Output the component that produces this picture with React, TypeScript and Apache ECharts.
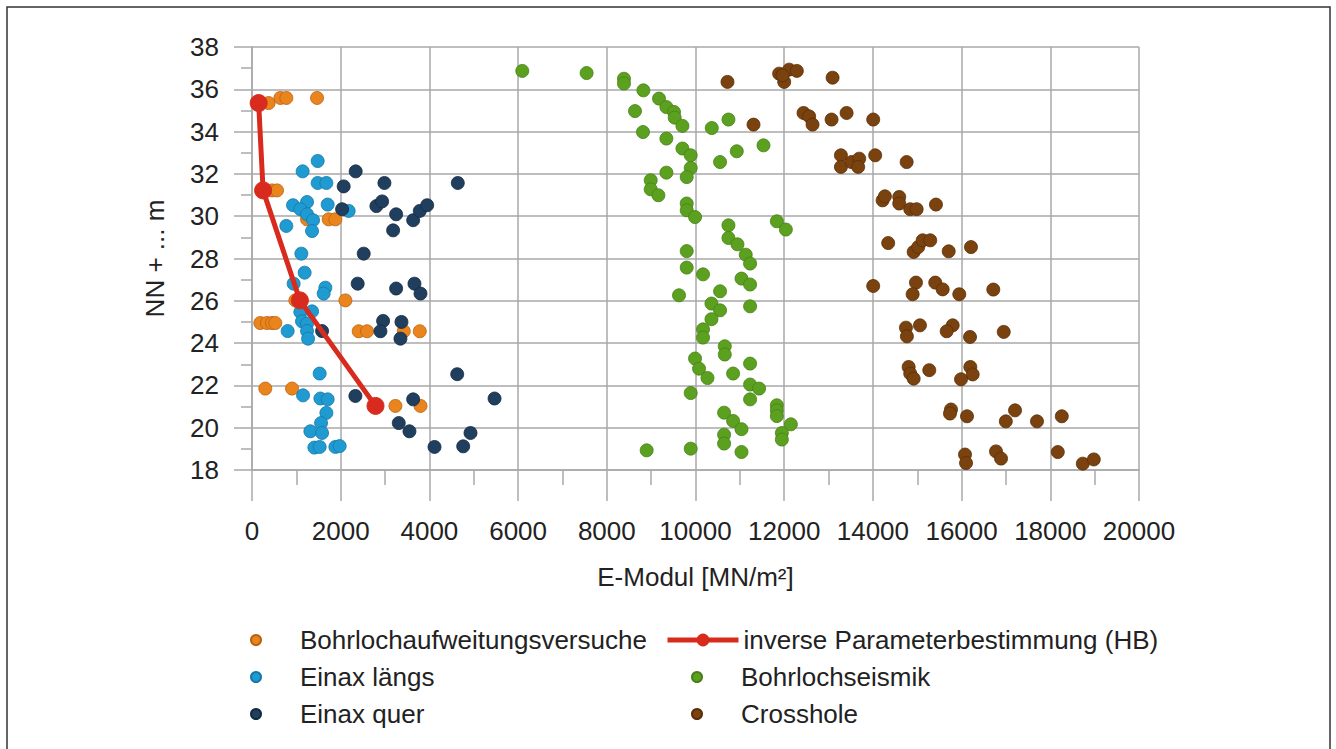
import React, { useEffect, useRef } from 'react';
import * as echarts from 'echarts';

const FONT = '"Liberation Sans", Arial, Helvetica, sans-serif';

const NAME_ORANGE = 'Bohrlochaufweitungsversuche';
const NAME_BLUE = 'Einax längs';
const NAME_NAVY = 'Einax quer';
const NAME_RED = 'inverse Parameterbestimmung (HB)';
const NAME_GREEN = 'Bohrlochseismik';
const NAME_BROWN = 'Crosshole';

const xTicks = [0, 2000, 4000, 6000, 8000, 10000, 12000, 14000, 16000, 18000, 20000];
const yTicks = [18, 20, 22, 24, 26, 28, 30, 32, 34, 36, 38];

const bohrlochaufweitung: number[][] = [
  [375, 35.35], [640, 35.59], [775, 35.59], [1467, 35.59], [451, 31.22], [564, 31.22],
  [1241, 29.85], [1729, 29.85], [1880, 29.85], [977, 26.02], [2106, 26.02],
  [187, 24.95], [338, 24.95], [451, 24.95], [526, 24.95], [2406, 24.56], [2595, 24.56],
  [3422, 24.56], [3783, 24.56], [300, 21.85], [903, 21.85], [3234, 21.03], [3799, 21.03],
];

const einaxLaengs: number[][] = [
  [1481, 32.61], [1142, 32.12], [1481, 31.57], [1677, 31.57], [1241, 30.67], [925, 30.52],
  [1090, 30.33], [1241, 30.09], [1706, 30.55], [1377, 29.81], [2180, 30.25], [774, 29.54],
  [1354, 29.3], [1113, 28.23], [1187, 27.33], [939, 26.81], [1654, 26.62], [1616, 26.34],
  [1090, 25.47], [1354, 25.5], [1128, 25.03], [1241, 24.92], [804, 24.57], [1241, 24.57],
  [1264, 24.21], [1526, 22.56], [1151, 21.53], [1542, 21.38], [1706, 21.34], [1677, 20.7],
  [1557, 20.22], [1316, 19.83], [1580, 19.75], [1406, 19.06], [1526, 19.09], [1880, 19.09],
  [1977, 19.13],
];

const einaxQuer: number[][] = [
  [2338, 32.12], [2067, 31.41], [2986, 31.57], [4640, 31.57], [2031, 30.33], [2805, 30.48],
  [2934, 30.7], [3250, 30.09], [3634, 29.81], [3783, 30.25], [3950, 30.52], [3182, 29.33],
  [2519, 28.23], [2383, 26.81], [3250, 26.58], [3663, 26.81], [3799, 26.34], [1580, 24.57],
  [2956, 25.05], [3370, 25.0], [2896, 24.56], [3347, 24.21], [4627, 22.53], [2331, 21.5],
  [3634, 21.34], [5469, 21.38], [3309, 20.22], [3550, 19.83], [4927, 19.75], [4115, 19.09],
  [4762, 19.12],
];

const inverseHB: number[][] = [
  [150, 35.35], [250, 31.22], [1080, 26.02], [2785, 21.03],
];

const bohrlochseismik: number[][] = [
  [6094, 36.87], [7545, 36.77], [8387, 36.5], [8387, 36.27], [8825, 35.95], [9177, 35.56],
  [9344, 35.16], [9515, 34.93], [9531, 34.66], [9705, 34.27], [8636, 34.97], [8816, 33.98],
  [9344, 33.67], [9705, 33.2], [9892, 32.88], [9892, 32.28], [9802, 31.85], [9344, 32.06],
  [8990, 31.7], [8990, 31.27], [9163, 30.99], [10367, 34.17], [10743, 34.57], [10931, 33.07],
  [10554, 32.56], [11533, 33.35], [9802, 30.6], [9802, 30.28], [9990, 29.96], [10743, 29.57],
  [11834, 29.76], [12037, 29.37], [10743, 28.97], [10946, 28.67], [11133, 28.18], [9802, 28.35],
  [11231, 27.76], [9802, 27.57], [10170, 27.25], [11037, 27.05], [11231, 26.77], [9628, 26.26],
  [10554, 26.45], [10360, 25.87], [10554, 25.55], [10360, 25.13], [11231, 25.74], [10170, 24.65],
  [10170, 24.26], [10660, 23.85], [10660, 23.46], [9990, 23.27], [10080, 22.79], [10270, 22.35],
  [10848, 22.56], [11231, 23.03], [11231, 22.04], [11434, 21.85], [11231, 21.34], [9892, 21.64],
  [11834, 21.06], [11834, 20.82], [11834, 20.55], [12150, 20.16], [11947, 19.75], [11947, 19.44],
  [10645, 20.71], [10848, 20.32], [11037, 19.93], [10645, 19.67], [10645, 19.25], [9892, 19.01],
  [8899, 18.93], [11037, 18.85],
];

const crosshole: number[][] = [
  [10721, 36.35], [11886, 36.74], [12000, 36.35], [12111, 36.93], [12285, 36.87], [11962, 36.66],
  [13091, 36.55], [11308, 34.33], [12436, 34.88], [12563, 34.72], [12639, 34.33], [13068, 34.57],
  [13407, 34.88], [14007, 34.57], [13279, 32.88], [13279, 32.33], [13520, 32.56], [13691, 32.72],
  [13668, 32.33], [14052, 32.88], [14761, 32.56], [14219, 30.75], [14271, 30.94], [14594, 30.91],
  [14594, 30.6], [14842, 30.33], [14986, 30.33], [15422, 30.55], [14345, 28.73], [14919, 28.31],
  [15022, 28.54], [15122, 28.86], [15293, 28.86], [15709, 28.34], [16212, 28.54], [14007, 26.7],
  [14971, 26.86], [14896, 26.31], [15406, 26.86], [15573, 26.54], [15948, 26.31], [16715, 26.53],
  [14745, 24.73], [14767, 24.32], [15061, 24.84], [15799, 24.84], [15664, 24.56], [16190, 24.29],
  [16950, 24.53], [14806, 22.87], [14842, 22.56], [14919, 22.32], [15271, 22.72], [16197, 22.87],
  [16250, 22.52], [15987, 22.29], [15761, 20.86], [15738, 20.67], [16122, 20.54], [17205, 20.82],
  [16997, 20.3], [17700, 20.3], [18259, 20.54], [16077, 18.73], [16100, 18.33], [16776, 18.88],
  [16889, 18.54], [18169, 18.85], [18733, 18.3], [18981, 18.5],
];

const GRID_COLOR = '#a9a9a9';
const TEXT_COLOR = '#222222';
const FS = 26;

function scatter(name: string, data: number[][], color: string, border: string) {
  return {
    type: 'scatter',
    name,
    data,
    symbol: 'circle',
    symbolSize: 13,
    itemStyle: { color, borderColor: border, borderWidth: 0.8, opacity: 1 },
    z: 3,
  };
}

export default function App() {
  const ref = useRef<HTMLDivElement>(null);
  useEffect(() => {
    const chart = echarts.init(ref.current as HTMLDivElement, null, { renderer: 'svg' });
    const legendText = { fontSize: FS, color: TEXT_COLOR, fontFamily: FONT };
    const option: any = {
      animation: false,
      backgroundColor: '#ffffff',
      textStyle: { fontFamily: FONT },
      graphic: [
        {
          type: 'rect',
          silent: true,
          shape: { x: 7, y: 7, width: 1323, height: 800 },
          style: { fill: 'none', stroke: '#333333', lineWidth: 1.5 },
        },
      ],
      grid: { left: 252, top: 47, width: 887, height: 423 },
      legend: [
        {
          orient: 'vertical', left: 245, top: 622, itemWidth: 78, itemHeight: 10, itemGap: 11,
          textStyle: legendText, data: [NAME_ORANGE, NAME_BLUE, NAME_NAVY], selectedMode: false,
        },
        {
          orient: 'vertical', left: 660, top: 622, itemWidth: 71, itemHeight: 16, itemGap: 11,
          textStyle: legendText, data: [NAME_RED], selectedMode: false,
          lineStyle: { width: 5, color: '#d92a1e' },
        },
        {
          orient: 'vertical', left: 686, top: 659, itemWidth: 78, itemHeight: 10, itemGap: 11,
          textStyle: legendText, data: [NAME_GREEN, NAME_BROWN], selectedMode: false,
        },
      ],
      xAxis: {
        type: 'value',
        min: xTicks[0],
        max: xTicks[xTicks.length - 1],
        interval: xTicks[1] - xTicks[0],
        name: 'E-Modul [MN/m²]',
        nameLocation: 'middle',
        nameGap: 94,
        nameTextStyle: { fontSize: FS, color: TEXT_COLOR, fontFamily: FONT },
        axisLine: { show: true, lineStyle: { color: GRID_COLOR, width: 1.5 } },
        axisTick: { show: true, length: 31, lineStyle: { color: GRID_COLOR, width: 1.5 } },
        minorTick: { show: true, splitNumber: 2, length: 15, lineStyle: { color: GRID_COLOR, width: 1.5 } },
        axisLabel: {
          fontSize: FS, color: TEXT_COLOR, margin: 48, fontFamily: FONT,
          formatter: (v: number) => String(v),
        },
        splitLine: { show: true, lineStyle: { color: GRID_COLOR, width: 1.5 } },
      },
      yAxis: {
        type: 'value',
        min: yTicks[0],
        max: yTicks[yTicks.length - 1],
        interval: yTicks[1] - yTicks[0],
        name: 'NN + ... m',
        nameLocation: 'middle',
        nameRotate: 90,
        nameGap: 84,
        nameTextStyle: { fontSize: FS, color: TEXT_COLOR, fontFamily: FONT },
        axisLine: { show: true, lineStyle: { color: GRID_COLOR, width: 1.5 } },
        axisTick: { show: true, length: 18, lineStyle: { color: GRID_COLOR, width: 1.5 } },
        minorTick: { show: true, splitNumber: 2, length: 11, lineStyle: { color: GRID_COLOR, width: 1.5 } },
        axisLabel: {
          fontSize: FS, color: TEXT_COLOR, margin: 33, fontFamily: FONT,
          formatter: (v: number) => String(v),
        },
        splitLine: { show: true, lineStyle: { color: GRID_COLOR, width: 1.5 } },
      },
      series: [
        scatter(NAME_ORANGE, bohrlochaufweitung, '#ea841d', '#b86210'),
        scatter(NAME_BLUE, einaxLaengs, '#1f9bd1', '#1479a6'),
        scatter(NAME_NAVY, einaxQuer, '#203f5f', '#142a40'),
        scatter(NAME_GREEN, bohrlochseismik, '#5ba11f', '#468016'),
        scatter(NAME_BROWN, crosshole, '#7a420f', '#5a2f08'),
        {
          type: 'line',
          name: NAME_RED,
          data: inverseHB,
          symbol: 'circle',
          symbolSize: 17,
          lineStyle: { color: '#d92a1e', width: 5 },
          itemStyle: { color: '#d92a1e', borderColor: '#d92a1e' },
          z: 5,
        },
      ],
    };
    chart.setOption(option);
    return () => chart.dispose();
  }, []);
  return (
    <div
      ref={ref}
      style={{ position: 'absolute', left: 0, top: 0, width: 1336, height: 749, background: '#fff' }}
    />
  );
}
